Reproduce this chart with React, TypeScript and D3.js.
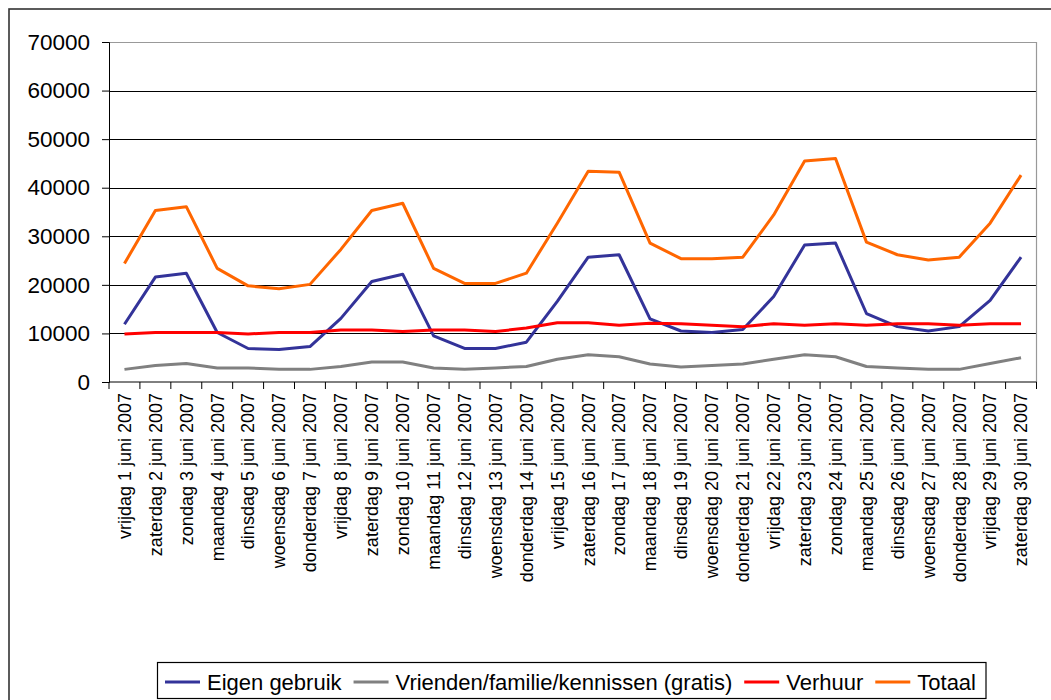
import React, { useRef, useEffect } from 'react';
import * as d3 from 'd3';

const dagen = [
  'vrijdag 1 juni 2007', 'zaterdag 2 juni 2007', 'zondag 3 juni 2007', 'maandag 4 juni 2007',
  'dinsdag 5 juni 2007', 'woensdag 6 juni 2007', 'donderdag 7 juni 2007', 'vrijdag 8 juni 2007',
  'zaterdag 9 juni 2007', 'zondag 10 juni 2007', 'maandag 11 juni 2007', 'dinsdag 12 juni 2007',
  'woensdag 13 juni 2007', 'donderdag 14 juni 2007', 'vrijdag 15 juni 2007', 'zaterdag 16 juni 2007',
  'zondag 17 juni 2007', 'maandag 18 juni 2007', 'dinsdag 19 juni 2007', 'woensdag 20 juni 2007',
  'donderdag 21 juni 2007', 'vrijdag 22 juni 2007', 'zaterdag 23 juni 2007', 'zondag 24 juni 2007',
  'maandag 25 juni 2007', 'dinsdag 26 juni 2007', 'woensdag 27 juni 2007', 'donderdag 28 juni 2007',
  'vrijdag 29 juni 2007', 'zaterdag 30 juni 2007',
];

const eigenGebruik = [11900, 21600, 22400, 10200, 6900, 6700, 7300, 13100, 20700, 22200, 9500, 6900, 6900, 8200, 16600, 25700, 26200, 13000, 10500, 10200, 10800, 17600, 28200, 28600, 14100, 11400, 10500, 11400, 16800, 25700];
const vrienden = [2600, 3400, 3800, 2900, 2900, 2600, 2600, 3200, 4100, 4100, 2900, 2600, 2900, 3200, 4700, 5600, 5200, 3700, 3100, 3400, 3700, 4700, 5600, 5200, 3200, 2900, 2600, 2600, 3800, 5000];
const verhuur = [9900, 10200, 10200, 10200, 9900, 10200, 10200, 10700, 10700, 10400, 10700, 10700, 10400, 11100, 12200, 12200, 11700, 12100, 12000, 11700, 11400, 12000, 11700, 12000, 11700, 12000, 12000, 11700, 12000, 12000];
const totaal = [24400, 35300, 36100, 23400, 19800, 19200, 20100, 27300, 35300, 36800, 23400, 20300, 20300, 22400, 32700, 43400, 43200, 28600, 25400, 25400, 25700, 34400, 45500, 46000, 28800, 26200, 25100, 25700, 32700, 42600];

const yTicks = [0, 10000, 20000, 30000, 40000, 50000, 60000, 70000];

const series = [
  { name: 'Eigen gebruik', values: eigenGebruik, color: '#333399' },
  { name: 'Vrienden/familie/kennissen (gratis)', values: vrienden, color: '#808080' },
  { name: 'Verhuur', values: verhuur, color: '#ff0000' },
  { name: 'Totaal', values: totaal, color: '#ff6600' },
];

const W = 1051;
const H = 700;
const FONT = '"Liberation Sans", Arial, sans-serif';

export default function App() {
  const ref = useRef<SVGSVGElement>(null);

  useEffect(() => {
    if (!ref.current) return;
    const svg = d3.select(ref.current);
    svg.selectAll('*').remove();

    const left = 109, right = 1036.5, top = 42, bottom = 382;

    // outer frame
    svg.append('rect')
      .attr('x', 9).attr('y', 9).attr('width', W).attr('height', H)
      .attr('fill', 'white').attr('stroke', '#333').attr('stroke-width', 1.6);

    const x = d3.scaleBand<string>().domain(dagen).range([left, right]);
    const y = d3.scaleLinear().domain([0, 70000]).range([bottom, top]);
    const cx = (d: string) => (x(d) as number) + x.bandwidth() / 2;

    // gridlines
    svg.append('g').selectAll('line')
      .data(yTicks.filter(t => t > 0 && t < 70000))
      .join('line')
      .attr('x1', left).attr('x2', right)
      .attr('y1', d => Math.round(y(d)) + 0.5).attr('y2', d => Math.round(y(d)) + 0.5)
      .attr('stroke', '#000').attr('stroke-width', 1);

    // plot border top / right
    svg.append('path')
      .attr('d', `M${left},${top + 0.5}H${right}V${bottom}`)
      .attr('fill', 'none').attr('stroke', '#999').attr('stroke-width', 1.2);

    // y axis
    const yAxis = svg.append('g').attr('transform', `translate(${left},0)`)
      .call(d3.axisLeft(y).tickValues(yTicks).tickSize(7).tickPadding(12).tickFormat(d3.format('d')));
    yAxis.select('.domain').attr('stroke', '#000');
    yAxis.selectAll('line').attr('stroke', '#000');
    yAxis.selectAll('text').attr('font-family', FONT).attr('font-size', 22.5).attr('fill', '#000');

    // x axis
    const xg = svg.append('g').attr('transform', `translate(0,${bottom})`);
    xg.append('line').attr('x1', left).attr('x2', right).attr('y1', 0).attr('y2', 0)
      .attr('stroke', '#000');
    xg.selectAll('line.tick')
      .data(d3.range(dagen.length + 1))
      .join('line').attr('class', 'tick')
      .attr('x1', i => left + i * x.step()).attr('x2', i => left + i * x.step())
      .attr('y1', 0).attr('y2', 7).attr('stroke', '#000');
    xg.selectAll('text')
      .data(dagen)
      .join('text')
      .attr('transform', d => `translate(${cx(d)},11) rotate(-90)`)
      .attr('text-anchor', 'end')
      .attr('dy', '0.35em')
      .attr('font-family', FONT).attr('font-size', 18).attr('fill', '#000')
      .text(d => d);

    // lines
    const line = d3.line<number>()
      .x((_, i) => cx(dagen[i]))
      .y(v => y(v));
    svg.append('g').selectAll('path')
      .data(series)
      .join('path')
      .attr('d', s => line(s.values))
      .attr('fill', 'none')
      .attr('stroke', s => s.color)
      .attr('stroke-width', 3)
      .attr('stroke-linejoin', 'round');

    // legend
    const lg = svg.append('g');
    const box = lg.append('rect')
      .attr('y', 662.5).attr('height', 36)
      .attr('fill', 'white').attr('stroke', '#000').attr('stroke-width', 1.2);
    let cur = 165;
    series.forEach(s => {
      lg.append('line')
        .attr('x1', cur).attr('x2', cur + 35).attr('y1', 682).attr('y2', 682)
        .attr('stroke', s.color).attr('stroke-width', 3);
      const t = lg.append('text')
        .attr('x', cur + 42).attr('y', 682).attr('dy', '0.35em')
        .attr('font-family', FONT).attr('font-size', 22).attr('fill', '#000')
        .text(s.name);
      const len = (t.node() as SVGTextElement).getComputedTextLength();
      cur += 42 + len + 12;
    });
    box.attr('x', 157.5).attr('width', cur - 157.5 - 2);
  }, []);

  return (
    <svg
      ref={ref}
      width={W}
      height={H}
      style={{ position: 'absolute', left: 0, top: 0, background: 'white' }}
    />
  );
}
